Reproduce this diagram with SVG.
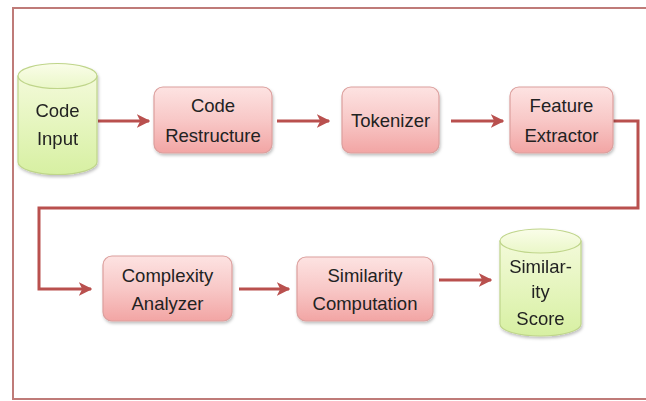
<svg xmlns="http://www.w3.org/2000/svg" width="646" height="401" viewBox="0 0 646 401">
<defs>
<linearGradient id="gBox" x1="0" y1="0" x2="0" y2="1">
<stop offset="0" stop-color="#fde3e2"/>
<stop offset="0.5" stop-color="#f8c8c7"/>
<stop offset="1" stop-color="#f2a5a4"/>
</linearGradient>
<linearGradient id="gCyl" x1="0" y1="0" x2="0" y2="1">
<stop offset="0" stop-color="#f3fad9"/>
<stop offset="1" stop-color="#d7f0a2"/>
</linearGradient>
<linearGradient id="gTop" x1="0" y1="0" x2="0" y2="1">
<stop offset="0" stop-color="#fafde9"/>
<stop offset="1" stop-color="#eaf7c8"/>
</linearGradient>
<marker id="arr" viewBox="0 0 10 10" refX="9" refY="5" markerWidth="4.5" markerHeight="4.5" orient="auto" markerUnits="strokeWidth">
<path d="M0,0 L10,5 L0,10 L2.5,5 Z" fill="#b9504e"/>
</marker>
<filter id="sh" x="-10%" y="-10%" width="125%" height="130%">
<feDropShadow dx="1" dy="2" stdDeviation="1.5" flood-color="#000" flood-opacity="0.25"/>
</filter>
</defs>
<style>
.box{fill:url(#gBox);stroke:#dc9f9d;stroke-width:1.2;filter:url(#sh)}
.cyl{fill:url(#gCyl);stroke:#bfd58a;stroke-width:1.2}
.cyltop{fill:url(#gTop);stroke:#bfd58a;stroke-width:1.2}
.t{font-family:"Liberation Sans",Arial,sans-serif;font-size:18.5px;fill:#222;text-anchor:middle}
.c{fill:none;stroke:#b9504e;stroke-width:3}
.frame{fill:none;stroke:#bf7b78;stroke-width:2}
</style>
<rect width="646" height="401" fill="#fff"/>
<path class="frame" d="M650,8 L13,8 L13,399 L650,399"/>

<g id="connectors">
<line class="c" x1="98" y1="121" x2="149" y2="121" marker-end="url(#arr)"/>
<line class="c" x1="277" y1="121" x2="329" y2="121" marker-end="url(#arr)"/>
<line class="c" x1="451" y1="121" x2="503" y2="121" marker-end="url(#arr)"/>
<polyline class="c" points="613,121 638,121 638,208 39,208 39,289 91,289" marker-end="url(#arr)"/>
<line class="c" x1="239" y1="289" x2="289" y2="289" marker-end="url(#arr)"/>
<line class="c" x1="439" y1="280" x2="491" y2="280" marker-end="url(#arr)"/>
</g>

<g id="code-input" filter="url(#sh)">
<path class="cyl" d="M18,76 L18,162 A39.5,12.5 0 0 0 97,162 L97,76 Z"/>
<ellipse class="cyltop" cx="57.5" cy="76" rx="39.5" ry="12.5"/>
<text class="t" x="57.5" y="117">Code</text>
<text class="t" x="57.5" y="145">Input</text>
</g>

<g id="code-restructure">
<rect class="box" x="154" y="87" width="118" height="66" rx="9"/>
<text class="t" x="213" y="112">Code</text>
<text class="t" x="213" y="142">Restructure</text>
</g>

<g id="tokenizer">
<rect class="box" x="342" y="87" width="97" height="66" rx="9"/>
<text class="t" x="390.5" y="127">Tokenizer</text>
</g>

<g id="feature-extractor">
<rect class="box" x="510" y="87" width="103" height="66" rx="9"/>
<text class="t" x="561.5" y="112">Feature</text>
<text class="t" x="561.5" y="142">Extractor</text>
</g>

<g id="complexity-analyzer">
<rect class="box" x="103" y="256" width="129" height="65" rx="9"/>
<text class="t" x="167.5" y="282">Complexity</text>
<text class="t" x="167.5" y="310">Analyzer</text>
</g>

<g id="similarity-computation">
<rect class="box" x="297" y="257" width="136" height="64" rx="9"/>
<text class="t" x="365" y="282">Similarity</text>
<text class="t" x="365" y="310">Computation</text>
</g>

<g id="similarity-score" filter="url(#sh)">
<path class="cyl" d="M500,241 L500,324 A40.5,12 0 0 0 581,324 L581,241 Z"/>
<ellipse class="cyltop" cx="540.5" cy="241" rx="40.5" ry="12"/>
<text class="t" x="540.5" y="273">Similar-</text>
<text class="t" x="540.5" y="298">ity</text>
<text class="t" x="540.5" y="325">Score</text>
</g>
</svg>
